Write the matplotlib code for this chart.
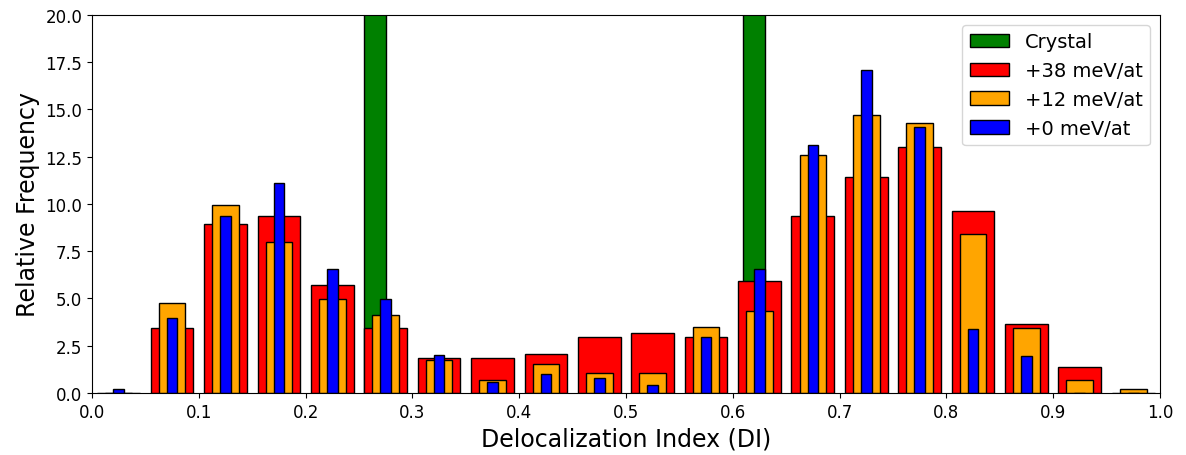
import numpy as np
import matplotlib
matplotlib.use("Agg")
import matplotlib.pyplot as plt

# DI histogram bins (width 0.05) and relative frequencies per structure set
bin_edges = np.arange(0.0, 1.0001, 0.05)
bin_centers = (bin_edges[:-1] + bin_edges[1:]) / 2

freq_38 = [0.0, 3.45, 8.92, 9.35, 5.71, 3.45, 1.85, 1.85, 2.06, 2.98,
           3.19, 2.98, 5.94, 9.37, 11.41, 13.02, 9.61, 3.67, 1.36, 0.0]
freq_12 = [0.0, 4.78, 9.96, 8.01, 4.99, 4.14, 1.73, 0.67, 1.52, 1.08,
           1.08, 3.47, 4.34, 12.57, 14.73, 14.29, 8.43, 3.46, 0.67, 0.23]
freq_0 = [0.2, 3.97, 9.35, 11.13, 6.56, 4.97, 1.99, 0.6, 1.02, 0.79,
          0.42, 2.98, 6.56, 13.12, 17.07, 14.09, 3.39, 1.98, 0.0, 0.0]

crystal_di = [0.265, 0.62]
crystal_freq = [50.0, 50.0]

fig = plt.figure(figsize=(11.86, 4.56), dpi=100)
ax = fig.add_axes([0.0776, 0.136, 0.9004, 0.829])

ax.bar(crystal_di, crystal_freq, width=0.02, color="green",
       edgecolor="black", linewidth=1, label="Crystal")
ax.bar(bin_centers, freq_38, width=0.04, color="red",
       edgecolor="black", linewidth=1, label="+38 meV/at")
ax.bar(bin_centers, freq_12, width=0.025, color="orange",
       edgecolor="black", linewidth=1, label="+12 meV/at")
ax.bar(bin_centers, freq_0, width=0.01, color="blue",
       edgecolor="black", linewidth=1, label="+0 meV/at")

ax.set_xlim(0, 1)
ax.set_ylim(0, 20)
ax.set_xticks(np.arange(0, 1.01, 0.1))
ax.set_yticks(np.arange(0, 20.01, 2.5))
ax.tick_params(labelsize=12)
ax.set_xlabel("Delocalization Index (DI)", fontsize=17)
ax.set_ylabel("Relative Frequency", fontsize=17)
ax.legend(loc="upper right", fontsize=14)

fig.savefig("out.png", dpi=100)
